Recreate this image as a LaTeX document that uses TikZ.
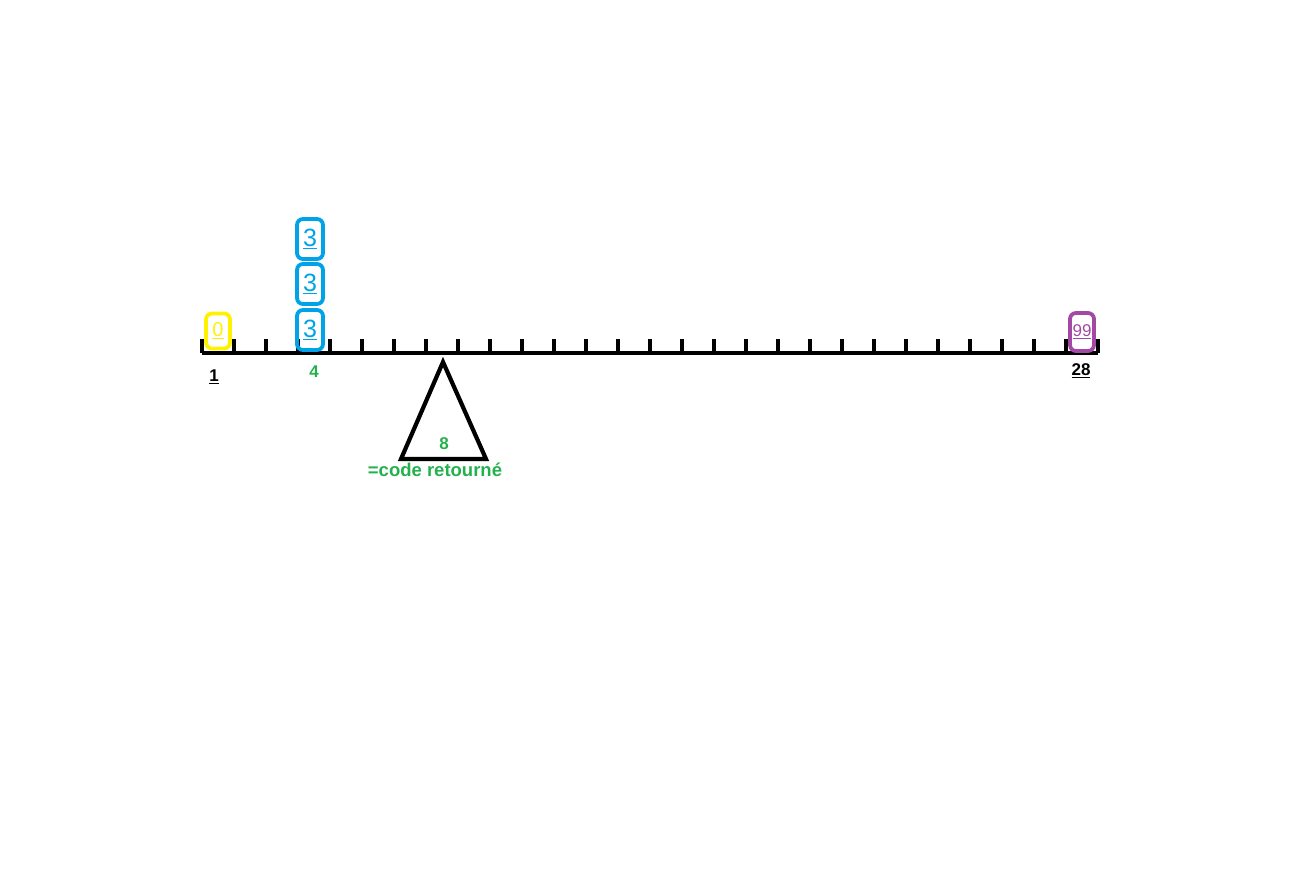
\documentclass[tikz,border=0pt]{standalone}
\usepackage{fontspec}
\setmainfont{Liberation Sans}
\usetikzlibrary{positioning,calc}
\definecolor{pyellow}{HTML}{FFF200}
\definecolor{pblue}{HTML}{00A2E8}
\definecolor{ppurple}{HTML}{A349A4}
\definecolor{pgreen}{HTML}{22B14C}
\newcommand{\slot}[1]{202+32*#1}

\begin{document}
\begin{tikzpicture}[
  x=1pt, y=-1pt,
  tok/.style={draw=#1, text=#1, line width=3.8pt, rounded corners=6pt,
              inner sep=0pt, minimum width=24pt, minimum height=38pt},
  lab/.style={font=\bfseries\fontsize{17}{19}\selectfont},
]
\useasboundingbox (0,0) rectangle (1298,894);
\def\beamY{353}

% ===== beam + ticks =====
\draw[line width=4.2pt] (202,\beamY) -- (1098,\beamY);
\foreach \k in {0,...,28}
  \draw[line width=3.4pt] ({\slot{\k}},339) -- ({\slot{\k}},\beamY);

% ===== weights =====
\node[tok=pyellow,font=\fontsize{20}{22}\selectfont,minimum height=35pt] (w0) at (218,331) {\underline{0}};
\node[tok=pblue,font=\fontsize{25}{27}\selectfont,minimum width=26pt,minimum height=40pt] (w3a) at (310,330) {\underline{3}};
\node[tok=pblue,font=\fontsize{25}{27}\selectfont,minimum width=26pt,minimum height=40pt] (w3b) at (310,284) {\underline{3}};
\node[tok=pblue,font=\fontsize{25}{27}\selectfont,minimum width=26pt,minimum height=40pt] (w3c) at (310,239) {\underline{3}};
\node[tok=ppurple,font=\fontsize{17}{18}\selectfont,minimum height=38pt] (w99) at (1082,332) {\underline{99}};

% ===== position labels =====
\node[lab] (p1) at (214,377) {\underline{1}};
\node[lab,pgreen] (p4) at (314,372) {4};
\node[lab] (p28) at (1081,371) {\underline{28}};

% ===== pivot =====
\coordinate (top) at (443,362);
\coordinate (bl) at (401,459);
\coordinate (br) at (486,459);
\draw[line width=4.2pt,line join=miter] (top) -- (br) -- (bl) -- cycle;
\node[lab,pgreen] (res) at (444,444) {8};
\node[lab,pgreen,font=\bfseries\fontsize{18.5}{20}\selectfont] (code) at (435,470) {=code retourné};
\end{tikzpicture}
\end{document}
